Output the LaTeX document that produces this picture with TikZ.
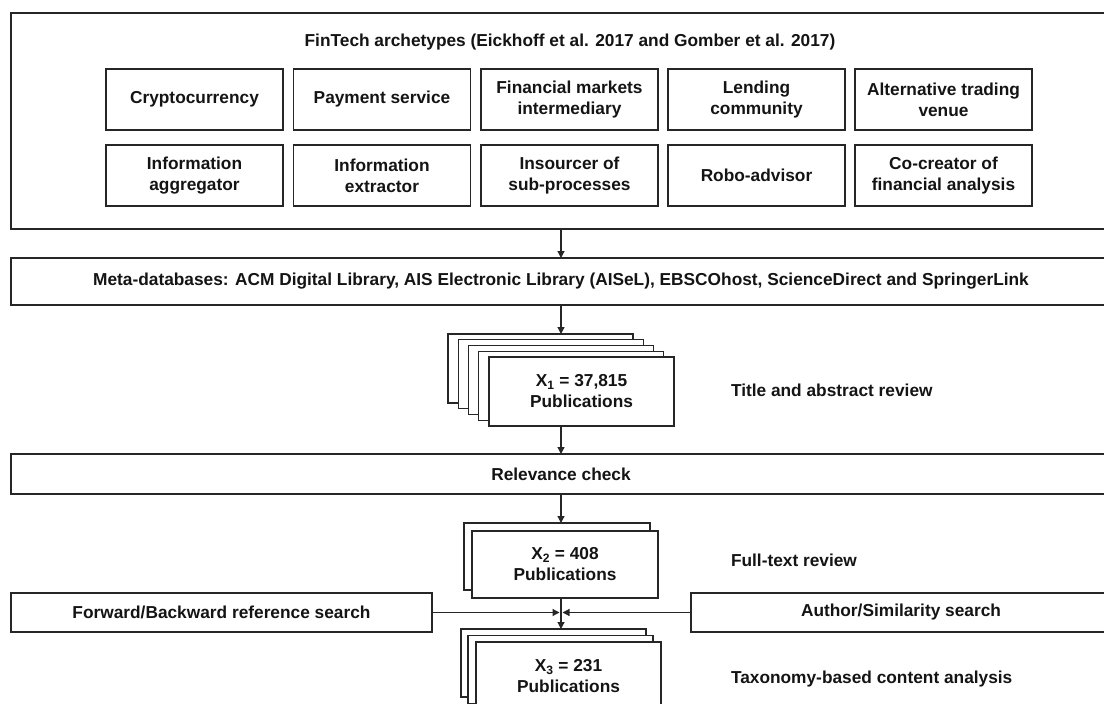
\documentclass[tikz,border=0pt]{standalone}
\usepackage{fontspec}
\setmainfont{Liberation Sans}
\usetikzlibrary{arrows.meta}
\begin{document}
\begin{tikzpicture}[x=1pt,y=-1pt,
  every node/.style={font=\fontsize{17.3}{21}\selectfont\bfseries, text=black!92, inner sep=0pt, outer sep=0pt},
  frame/.style={draw=black!85, line width=1.3pt, fill=white, anchor=north west, align=center},
  cell/.style={frame, minimum width=177pt, minimum height=61pt},
  wide/.style={frame, minimum width=1100pt},
  card/.style={frame, minimum width=185pt, minimum height=69pt},
  lbl/.style={anchor=west},
  arr/.style={draw=black!85, line width=1.2pt, -{Triangle[length=7pt,width=7pt]}}
]
\useasboundingbox (0,0) rectangle (1104,704);

% archetype frame
\node[wide, minimum height=216pt] (arch) at (11,13) {};
\node (title) at (570,42) {FinTech archetypes (Eickhoff et al. 2017 and Gomber et al. 2017)};

\node[cell] (crypto) at (106,69)   {Cryptocurrency};
\node[cell] (pay)    at (293.5,69) {Payment service};
\node[cell] (fmi)    at (481,69)   {Financial markets\\intermediary};
\node[cell] (lend)   at (668,69)   {Lending\\community};
\node[cell] (atv)    at (855,69)   {Alternative trading\\venue};

\node[cell] (infagg) at (106,145)   {Information\\aggregator};
\node[cell] (infext) at (293.5,145) {Information\\extractor};
\node[cell] (insrc)  at (481,145)   {Insourcer of\\sub-processes};
\node[cell] (robo)   at (668,145)   {Robo-advisor};
\node[cell] (cocr)   at (855,145)   {Co-creator of\\financial analysis};

% databases
\node[wide, minimum height=47pt] (meta) at (11,258)
  {Meta-databases: ACM Digital Library, AIS Electronic Library (AISeL), EBSCOhost, ScienceDirect and SpringerLink};

% first stack of publications
\node[card] (s1a) at (448,334)    {};
\node[card] (s1b) at (458.25,339.75) {};
\node[card] (s1c) at (468.5,345.5) {};
\node[card] (s1d) at (478.75,351.25) {};
\node[card] (s1e) at (489,357)    {X\textsubscript{1} = 37,815\\Publications};
\node[lbl] (tar) at (731,390) {Title and abstract review};

% relevance check
\node[wide, minimum height=40pt] (rel) at (11,454) {Relevance check};

% second stack
\node[card, minimum width=186pt, minimum height=67pt] (s2a) at (464,523) {};
\node[card, minimum width=186pt, minimum height=67pt] (s2b) at (472,531) {X\textsubscript{2} = 408\\Publications};
\node[lbl] (ftr) at (731,560) {Full-text review};

% additional searches
\node[frame, minimum width=421pt, minimum height=39pt] (fwd) at (11,593) {Forward/Backward reference search};
\node[frame, minimum width=420pt, minimum height=39pt] (auth) at (691,593) {Author/Similarity search};

% third stack
\node[card, minimum height=68pt] (s3a) at (461,629)   {};
\node[card, minimum height=68pt] (s3b) at (468,635.5) {};
\node[card, minimum height=68pt] (s3c) at (476,642)   {X\textsubscript{3} = 231\\Publications};
\node[lbl] (tca) at (731,679) {Taxonomy-based content analysis};

% connectors
\coordinate (join) at (561,612.5);
\draw[arr] (arch.south) -- (meta.north);
\draw[arr] (meta.south) -- (meta.south |- s1a.north);
\draw[arr] (s1e.south -| rel.north) -- (rel.north);
\draw[arr] (rel.south) -- (rel.south |- s2a.north);
\draw[arr] (fwd.east) -- ([xshift=-1.5pt]join);
\draw[arr] (auth.west) -- ([xshift=1.5pt]join);
\draw[arr] (s2b.south -| join) -- (join |- s3a.north);
\end{tikzpicture}
\end{document}
